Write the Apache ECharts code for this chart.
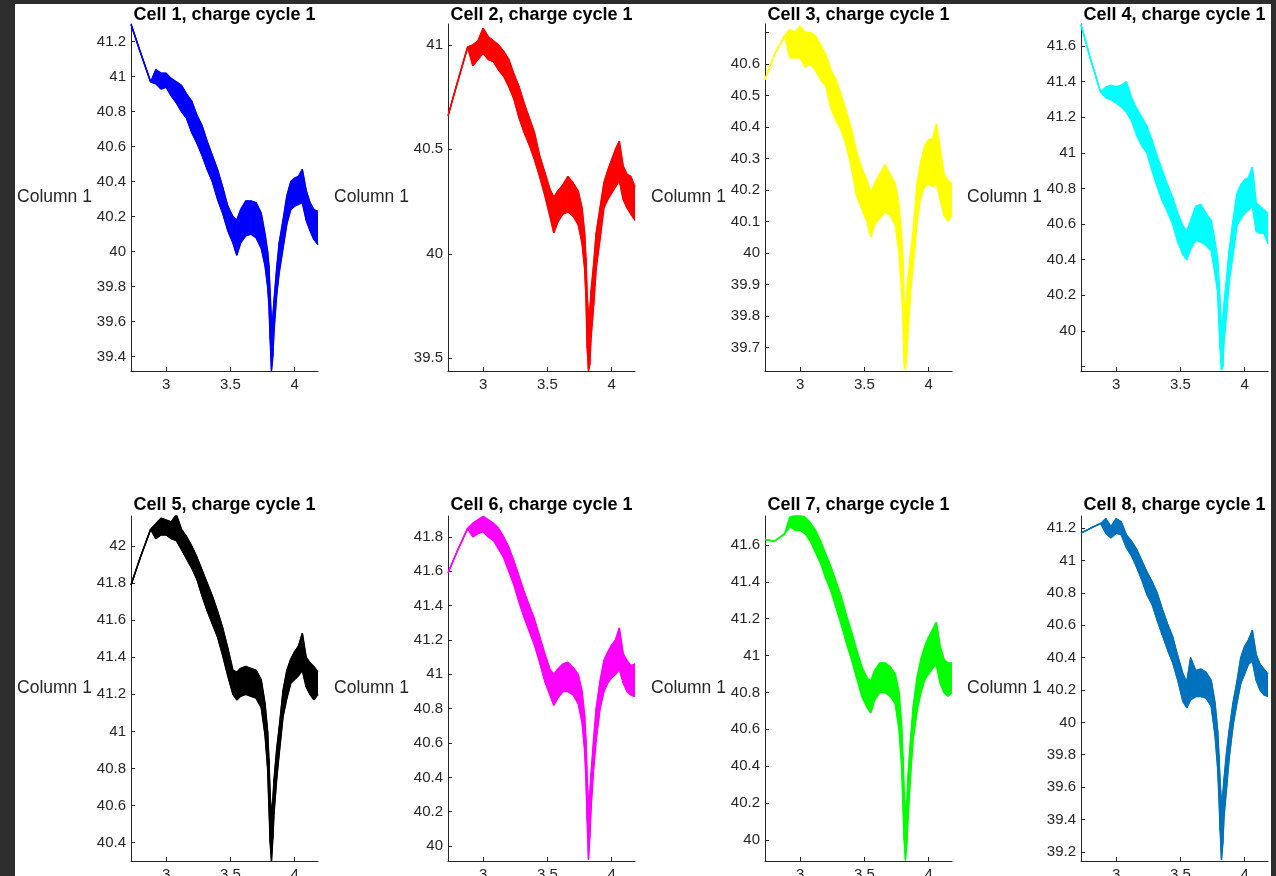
<!DOCTYPE html>
<html>
<head>
<meta charset="utf-8">
<title>Cells, charge cycle 1</title>
<script src="https://cdn.jsdelivr.net/npm/echarts@6/dist/echarts.min.js"></script>
<style>
html, body { margin: 0; padding: 0; background: #fff; overflow: hidden; }
#chart { position: absolute; left: 0; top: 0; width: 1276px; height: 876px; }
.edge { position: absolute; background: #2d2d2d; }
</style>
</head>
<body>
<div id="chart"></div>
<div class="edge" style="left:0;top:0;width:1276px;height:4px"></div>
<div class="edge" style="left:0;top:0;width:15px;height:876px"></div>
<div class="edge" style="left:1271px;top:0;width:5px;height:876px"></div>
<script>
// voltage grid shared by all cells
var voltage = [2.727, 2.80, 2.88, 2.92, 2.96, 3.00, 3.04, 3.08, 3.12, 3.16, 3.20, 3.24, 3.28, 3.32, 3.36,
    3.40, 3.44, 3.48, 3.52, 3.55, 3.58, 3.62, 3.66, 3.70, 3.74, 3.77, 3.79, 3.80, 3.81, 3.82, 3.83, 3.84,
    3.86, 3.88, 3.91, 3.94, 3.97, 4.00, 4.03, 4.06, 4.09, 4.12, 4.15, 4.182];

// upper / lower edge of the noisy trace, per cell
var cell1Hi = [41.30, 41.14, 40.97, 41.04, 41.02, 41.02, 40.99, 40.97, 40.95, 40.90, 40.86, 40.78, 40.72, 40.63, 40.55,
    40.47, 40.37, 40.26, 40.20, 40.18, 40.24, 40.29, 40.29, 40.28, 40.22, 40.10, 40.00, 39.92, 39.75, 39.60, 39.62, 39.72,
    39.90, 40.05, 40.18, 40.32, 40.40, 40.42, 40.43, 40.47, 40.35, 40.28, 40.24, 40.23];
var cell1Lo = [41.30, 41.14, 40.97, 40.96, 40.93, 40.94, 40.89, 40.85, 40.80, 40.76, 40.68, 40.62, 40.55, 40.47, 40.40,
    40.30, 40.22, 40.12, 40.05, 39.98, 40.05, 40.09, 40.10, 40.08, 40.02, 39.92, 39.80, 39.70, 39.50, 39.32, 39.40, 39.55,
    39.75, 39.88, 40.02, 40.16, 40.24, 40.26, 40.27, 40.28, 40.18, 40.12, 40.07, 40.04];

var cell2Hi = [40.66, 40.82, 40.99, 41.00, 41.02, 41.08, 41.04, 41.02, 41.00, 40.97, 40.93, 40.86, 40.80, 40.72, 40.65,
    40.58, 40.47, 40.39, 40.31, 40.27, 40.30, 40.33, 40.37, 40.34, 40.30, 40.22, 40.10, 39.98, 39.80, 39.70, 39.72, 39.82,
    39.95, 40.10, 40.22, 40.34, 40.40, 40.45, 40.50, 40.54, 40.42, 40.38, 40.37, 40.32];
var cell2Lo = [40.66, 40.82, 40.99, 40.90, 40.93, 40.96, 40.93, 40.92, 40.88, 40.85, 40.80, 40.74, 40.65, 40.58, 40.52,
    40.45, 40.37, 40.28, 40.18, 40.10, 40.15, 40.19, 40.20, 40.18, 40.14, 40.05, 39.93, 39.80, 39.55, 39.44, 39.47, 39.60,
    39.75, 39.93, 40.07, 40.22, 40.26, 40.29, 40.32, 40.35, 40.26, 40.22, 40.19, 40.16];

var cell3Hi = [40.55, 40.63, 40.69, 40.71, 40.70, 40.72, 40.70, 40.70, 40.69, 40.66, 40.63, 40.58, 40.55, 40.50, 40.45,
    40.39, 40.32, 40.27, 40.23, 40.19, 40.22, 40.25, 40.28, 40.25, 40.22, 40.15, 40.05, 39.98, 39.85, 39.80, 39.86, 39.92,
    40.00, 40.07, 40.22, 40.29, 40.34, 40.36, 40.36, 40.41, 40.33, 40.25, 40.23, 40.22];
var cell3Lo = [40.55, 40.63, 40.69, 40.62, 40.62, 40.62, 40.59, 40.60, 40.58, 40.55, 40.53, 40.46, 40.42, 40.39, 40.34,
    40.27, 40.18, 40.14, 40.10, 40.05, 40.09, 40.11, 40.13, 40.12, 40.09, 40.00, 39.88, 39.80, 39.65, 39.63, 39.68, 39.75,
    39.88, 39.96, 40.10, 40.18, 40.21, 40.22, 40.21, 40.22, 40.17, 40.12, 40.10, 40.12];

var cell4Hi = [41.72, 41.53, 41.34, 41.37, 41.38, 41.37, 41.38, 41.40, 41.31, 41.25, 41.20, 41.15, 41.07, 40.98, 40.90,
    40.82, 40.75, 40.66, 40.59, 40.56, 40.62, 40.70, 40.71, 40.66, 40.62, 40.50, 40.40, 40.28, 40.15, 40.00, 40.05, 40.15,
    40.30, 40.45, 40.62, 40.77, 40.82, 40.85, 40.86, 40.92, 40.72, 40.70, 40.68, 40.66];
var cell4Lo = [41.72, 41.53, 41.34, 41.31, 41.30, 41.28, 41.26, 41.23, 41.18, 41.10, 41.04, 41.00, 40.90, 40.81, 40.73,
    40.67, 40.60, 40.50, 40.43, 40.40, 40.46, 40.51, 40.50, 40.48, 40.45, 40.32, 40.22, 40.05, 39.90, 39.78, 39.80, 39.95,
    40.10, 40.28, 40.43, 40.59, 40.63, 40.66, 40.68, 40.70, 40.56, 40.55, 40.55, 40.49];

var cell5Hi = [41.79, 41.94, 42.09, 42.12, 42.15, 42.14, 42.13, 42.17, 42.09, 42.05, 42.00, 41.94, 41.87, 41.80, 41.73,
    41.65, 41.56, 41.45, 41.33, 41.32, 41.34, 41.35, 41.34, 41.33, 41.28, 41.15, 41.00, 40.85, 40.65, 40.55, 40.62, 40.74,
    40.90, 41.02, 41.22, 41.33, 41.39, 41.43, 41.46, 41.53, 41.40, 41.37, 41.35, 41.32];
var cell5Lo = [41.79, 41.94, 42.09, 42.04, 42.06, 42.06, 42.04, 42.03, 41.98, 41.93, 41.88, 41.82, 41.73, 41.65, 41.58,
    41.51, 41.41, 41.30, 41.20, 41.17, 41.19, 41.20, 41.19, 41.18, 41.13, 40.98, 40.80, 40.60, 40.40, 40.30, 40.42, 40.56,
    40.74, 40.88, 41.08, 41.18, 41.26, 41.28, 41.30, 41.33, 41.24, 41.20, 41.17, 41.20];

var cell6Hi = [41.59, 41.72, 41.85, 41.88, 41.90, 41.92, 41.90, 41.88, 41.85, 41.80, 41.74, 41.66, 41.57, 41.48, 41.40,
    41.32, 41.22, 41.12, 41.03, 41.00, 41.03, 41.06, 41.07, 41.04, 41.00, 40.90, 40.76, 40.62, 40.40, 40.22, 40.30, 40.42,
    40.62, 40.80, 40.96, 41.08, 41.13, 41.17, 41.20, 41.27, 41.12, 41.08, 41.05, 41.06];
var cell6Lo = [41.59, 41.72, 41.85, 41.80, 41.82, 41.83, 41.80, 41.78, 41.73, 41.68, 41.60, 41.52, 41.42, 41.33, 41.25,
    41.17, 41.07, 40.96, 40.88, 40.82, 40.86, 40.90, 40.90, 40.88, 40.83, 40.72, 40.56, 40.40, 40.15, 39.92, 40.05, 40.22,
    40.45, 40.62, 40.80, 40.90, 40.95, 40.98, 41.00, 41.03, 40.95, 40.90, 40.88, 40.87];

var cell7Hi = [41.63, 41.62, 41.66, 41.75, 41.76, 41.76, 41.75, 41.72, 41.68, 41.62, 41.55, 41.48, 41.40, 41.32, 41.22,
    41.13, 41.03, 40.94, 40.88, 40.86, 40.92, 40.96, 40.96, 40.94, 40.90, 40.80, 40.62, 40.45, 40.25, 40.12, 40.20, 40.35,
    40.55, 40.72, 40.88, 40.98, 41.05, 41.10, 41.14, 41.18, 41.05, 40.98, 40.96, 40.96];
var cell7Lo = [41.63, 41.62, 41.66, 41.70, 41.68, 41.68, 41.66, 41.62, 41.56, 41.50, 41.42, 41.35, 41.26, 41.17, 41.07,
    40.98, 40.88, 40.78, 40.72, 40.69, 40.76, 40.80, 40.80, 40.78, 40.74, 40.60, 40.40, 40.20, 40.00, 39.89, 39.98, 40.12,
    40.36, 40.55, 40.70, 40.80, 40.87, 40.90, 40.93, 40.95, 40.85, 40.80, 40.78, 40.80];

var cell8Hi = [41.17, 41.20, 41.23, 41.26, 41.21, 41.26, 41.24, 41.16, 41.12, 41.07, 41.00, 40.93, 40.87, 40.80, 40.70,
    40.61, 40.53, 40.41, 40.30, 40.25, 40.40, 40.32, 40.33, 40.31, 40.26, 40.12, 39.95, 39.80, 39.62, 39.50, 39.55, 39.65,
    39.82, 39.95, 40.12, 40.25, 40.40, 40.47, 40.51, 40.57, 40.42, 40.36, 40.33, 40.30];
var cell8Lo = [41.17, 41.20, 41.23, 41.17, 41.14, 41.17, 41.16, 41.08, 41.03, 40.96, 40.88, 40.79, 40.73, 40.63, 40.54,
    40.45, 40.37, 40.26, 40.13, 40.09, 40.14, 40.16, 40.16, 40.15, 40.10, 39.92, 39.72, 39.55, 39.33, 39.15, 39.25, 39.42,
    39.60, 39.78, 39.98, 40.12, 40.24, 40.30, 40.36, 40.38, 40.26, 40.20, 40.17, 40.16];

var titles = ['Cell 1, charge cycle 1', 'Cell 2, charge cycle 1', 'Cell 3, charge cycle 1', 'Cell 4, charge cycle 1',
    'Cell 5, charge cycle 1', 'Cell 6, charge cycle 1', 'Cell 7, charge cycle 1', 'Cell 8, charge cycle 1'];
var yLimMin = [39.318, 39.439, 39.625, 39.775, 40.301, 39.913, 39.886, 39.143];
var yLimMax = [41.301, 41.10, 40.727, 41.724, 42.162, 41.922, 41.757, 41.276];
var xLim = [2.727, 4.182];
var xTicks = [3, 3.5, 4];

var yTicks = [
    [39.4, 39.6, 39.8, 40, 40.2, 40.4, 40.6, 40.8, 41, 41.2],
    [39.5, 40, 40.5, 41],
    [39.7, 39.8, 39.9, 40, 40.1, 40.2, 40.3, 40.4, 40.5, 40.6, 40.7],
    [39.8, 40, 40.2, 40.4, 40.6, 40.8, 41, 41.2, 41.4, 41.6],
    [40.4, 40.6, 40.8, 41, 41.2, 41.4, 41.6, 41.8, 42],
    [40, 40.2, 40.4, 40.6, 40.8, 41, 41.2, 41.4, 41.6, 41.8],
    [40, 40.2, 40.4, 40.6, 40.8, 41, 41.2, 41.4, 41.6],
    [39.2, 39.4, 39.6, 39.8, 40, 40.2, 40.4, 40.6, 40.8, 41, 41.2]
];
// ticks that carry a label (matlab left two ticks bare)
var yLabels = [
    yTicks[0], yTicks[1],
    [39.7, 39.8, 39.9, 40, 40.1, 40.2, 40.3, 40.4, 40.5, 40.6],
    [40, 40.2, 40.4, 40.6, 40.8, 41, 41.2, 41.4, 41.6],
    yTicks[4], yTicks[5], yTicks[6], yTicks[7]
];

var hiSets = [cell1Hi, cell2Hi, cell3Hi, cell4Hi, cell5Hi, cell6Hi, cell7Hi, cell8Hi];
var loSets = [cell1Lo, cell2Lo, cell3Lo, cell4Lo, cell5Lo, cell6Lo, cell7Lo, cell8Lo];

var colors = ['#0000ff', '#ff0000', '#ffff00', '#00ffff', '#000000', '#ff00ff', '#00ff00', '#0072bd'];
var axisColor = '#262626';
var font = '"Liberation Sans", Arial, Helvetica, sans-serif';

var colLeft = [131, 448, 765, 1081],
    rowTop = [24, 516],
    rowHeight = [347, 345],
    titleTop = [6, 496],
    plotWidth = 187;

// fills the strip between lo and hi from one voltage step to the next
function bandRenderer(lo, hi, color) {
    return function(params, api) {
        var j = params.dataIndex;
        if (j >= voltage.length - 1)
            return null;
        var pts = [
            api.coord([voltage[j], lo[j]]),
            api.coord([voltage[j + 1], lo[j + 1]]),
            api.coord([voltage[j + 1], hi[j + 1]]),
            api.coord([voltage[j], hi[j]])
        ];
        return {
            type: 'polygon',
            shape: { points: pts },
            style: { fill: color, stroke: color, lineWidth: 1 }
        };
    };
}

var grids = [], xAxes = [], yAxes = [], series = [], titleList = [];

for (var i = 0; i < 8; i++) {
    var col = i % 4, row = Math.floor(i / 4);
    grids.push({
        left: colLeft[col],
        top: rowTop[row],
        width: plotWidth,
        height: rowHeight[row],
        containLabel: false,
        outerBoundsMode: 'none'
    });
    titleList.push({
        text: titles[i],
        left: colLeft[col] + plotWidth / 2,
        top: titleTop[row],
        textAlign: 'center',
        padding: 0,
        textStyle: { fontFamily: font, fontSize: 18, fontWeight: 'bold', color: '#000' }
    });
    xAxes.push({
        type: 'value',
        gridIndex: i,
        min: xLim[0],
        max: xLim[1],
        axisLine: { lineStyle: { color: axisColor, width: 1 } },
        axisTick: { inside: true, length: 4, customValues: xTicks, lineStyle: { color: axisColor } },
        axisLabel: { customValues: xTicks, margin: 6, color: axisColor, fontFamily: font, fontSize: 15 },
        splitLine: { show: false }
    });
    yAxes.push({
        type: 'value',
        gridIndex: i,
        min: yLimMin[i],
        max: yLimMax[i],
        name: 'Column 1',
        nameLocation: 'middle',
        nameRotate: 0,
        nameGap: 38,
        nameTextStyle: { fontFamily: font, fontSize: 17.5, color: axisColor },
        axisLine: { show: true, lineStyle: { color: axisColor, width: 1 } },
        axisTick: { show: true, inside: true, length: 4, customValues: yTicks[i], lineStyle: { color: axisColor } },
        axisLabel: { customValues: yLabels[i], margin: 5, color: axisColor, fontFamily: font, fontSize: 15 },
        splitLine: { show: false }
    });

    var hi = hiSets[i], lo = loSets[i];
    var loPts = [], hiPts = [], bandPts = [];
    for (var j = 0; j < voltage.length; j++) {
        loPts.push([voltage[j], lo[j]]);
        hiPts.push([voltage[j], hi[j]]);
        bandPts.push([voltage[j], lo[j], hi[j]]);
    }
    series.push({
        type: 'custom',
        name: titles[i],
        xAxisIndex: i,
        yAxisIndex: i,
        clip: true,
        encode: { x: 0, y: [1, 2] },
        data: bandPts,
        renderItem: bandRenderer(lo, hi, colors[i])
    });
    series.push({
        type: 'line',
        xAxisIndex: i,
        yAxisIndex: i,
        data: loPts,
        symbol: 'none',
        lineStyle: { color: colors[i], width: 1.5 }
    });
    series.push({
        type: 'line',
        xAxisIndex: i,
        yAxisIndex: i,
        data: hiPts,
        symbol: 'none',
        lineStyle: { color: colors[i], width: 1.5 }
    });
}

var chart = echarts.init(document.getElementById('chart'));
chart.setOption({
    animation: false,
    backgroundColor: '#ffffff',
    title: titleList,
    grid: grids,
    xAxis: xAxes,
    yAxis: yAxes,
    series: series
});
</script>
</body>
</html>
